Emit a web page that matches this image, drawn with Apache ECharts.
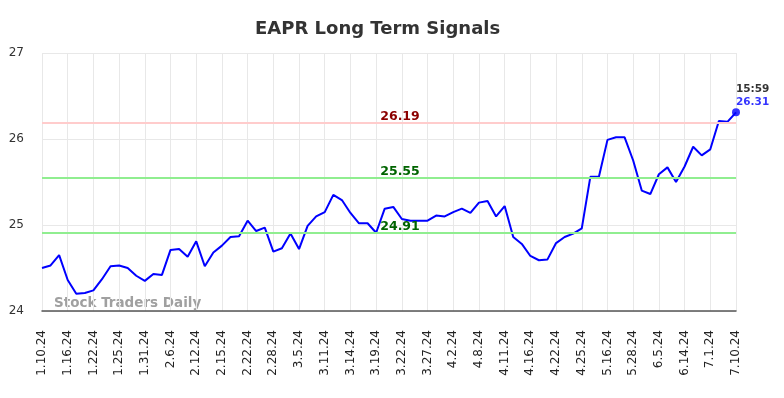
<!DOCTYPE html>
<html>
<head>
<meta charset="utf-8">
<script src="https://cdn.jsdelivr.net/npm/echarts@6/dist/echarts.min.js"></script>
<style>html,body{margin:0;padding:0;background:#fff}#c{width:784px;height:398px}</style>
</head>
<body>
<div id="c"></div>
<script>
var tickLabels = ['1.10.24','1.16.24','1.22.24','1.25.24','1.31.24','2.6.24','2.12.24','2.15.24','2.22.24','2.28.24','3.5.24','3.11.24','3.14.24','3.19.24','3.22.24','3.27.24','4.2.24','4.8.24','4.11.24','4.16.24','4.22.24','4.25.24','5.16.24','5.28.24','6.5.24','6.14.24','7.1.24','7.10.24'];
var prices = [24.50,24.53,24.65,24.36,24.20,24.21,24.24,24.37,24.52,24.53,
  24.50,24.41,24.35,24.43,24.42,24.71,24.72,24.63,24.81,24.52,
  24.68,24.76,24.86,24.87,25.05,24.93,24.97,24.69,24.73,24.90,
  24.72,24.99,25.10,25.15,25.35,25.29,25.14,25.02,25.02,24.91,
  25.19,25.21,25.07,25.05,25.05,25.05,25.11,25.10,25.15,25.19,
  25.14,25.26,25.28,25.10,25.22,24.86,24.78,24.64,24.59,24.60,
  24.79,24.86,24.90,24.96,25.56,25.56,25.99,26.02,26.02,25.75,
  25.40,25.36,25.59,25.67,25.50,25.68,25.91,25.81,25.88,26.21,
  26.20,26.31];
var resistance = 26.19;
var support1 = 25.55;
var support2 = 24.91;
var lastTime = '15:59';
var yTicks = [24, 25, 26, 27];

var categories = prices.map(function(v, i){ return i % 3 === 0 ? tickLabels[i/3] : ''; });
var lastIdx = prices.length - 1;
var FONT = 'DejaVu Sans';

var chart = echarts.init(document.getElementById('c'), null, {renderer:'canvas'});
chart.setOption({
  animation: false,
  backgroundColor: '#fff',
  textStyle: {fontFamily: FONT},
  title: {
    text: 'EAPR Long Term Signals',
    left: 250, top: 15,
    textStyle: {fontFamily: FONT, fontSize: 18, fontWeight: 'bold', color: '#333'}
  },
  grid: {left: 42, right: 48, top: 53, bottom: 87, containLabel: false},
  xAxis: {
    type: 'category',
    data: categories,
    boundaryGap: false,
    axisLine: {lineStyle: {color: '#555', width: 1.5}},
    axisTick: {show: false},
    axisLabel: {interval: 2, rotate: 90, margin: 19, fontSize: 12, color: '#222', fontFamily: FONT},
    splitLine: {show: true, interval: 2, lineStyle: {color: '#e8e8e8', width: 1}}
  },
  yAxis: {
    type: 'value',
    min: yTicks[0], max: yTicks[yTicks.length-1], interval: 1,
    axisLine: {show: false},
    axisTick: {show: false},
    axisLabel: {fontSize: 12, color: '#333', margin: 18, fontFamily: FONT},
    splitLine: {lineStyle: {color: '#e8e8e8', width: 1}}
  },
  graphic: [{
    type: 'text', left: 54, top: 296,
    style: {text: 'Stock Traders Daily', font: 'bold 13.5px "DejaVu Sans"', fill: '#a0a0a0'}
  }],
  series: [{
    type: 'line',
    data: prices,
    showSymbol: false,
    symbol: 'none',
    lineStyle: {color: '#0000ff', width: 2},
    z: 3,
    markLine: {
      silent: true,
      symbol: ['none','none'],
      data: [
        {yAxis: resistance, lineStyle: {color: '#ffcccc', width: 2, type: 'solid'},
          label: {color: '#8b0000'}},
        {yAxis: support1, lineStyle: {color: '#90ee90', width: 2, type: 'solid'},
          label: {color: '#006400'}},
        {yAxis: support2, lineStyle: {color: '#90ee90', width: 2, type: 'solid'},
          label: {color: '#006400'}}
      ],
      label: {
        show: true, position: 'insideMiddleTop', distance: 2, offset: [11, 3],
        fontFamily: FONT, fontWeight: 'bold', fontSize: 12.5,
        formatter: function(p){ return p.value.toFixed(2); }
      }
    }
  }, {
    type: 'scatter',
    data: [[lastIdx, prices[lastIdx]]],
    symbol: 'circle', symbolSize: 8,
    itemStyle: {color: '#0000ff'},
    z: 4,
    label: {
      show: true,
      position: [4, -26],
      align: 'left', verticalAlign: 'top',
      formatter: function(p){ return '{t|' + lastTime + '}\n{v|' + p.value[1].toFixed(2) + '}'; },
      rich: {
        t: {fontFamily: FONT, fontWeight: 'bold', fontSize: 10.5, color: '#000', lineHeight: 13},
        v: {fontFamily: FONT, fontWeight: 'bold', fontSize: 10.5, color: '#0000ff', lineHeight: 13}
      }
    }
  }]
});
</script>
</body>
</html>
